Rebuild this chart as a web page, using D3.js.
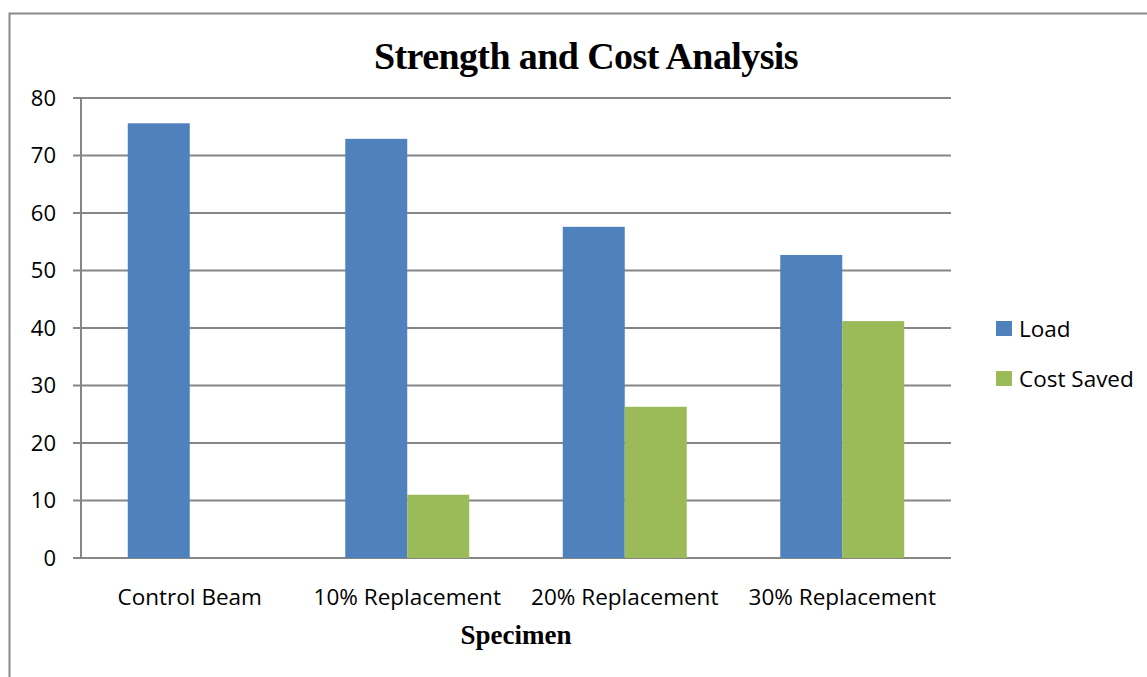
<!DOCTYPE html>
<html>
<head>
<meta charset="utf-8">
<script src="https://cdn.jsdelivr.net/npm/d3@7"></script>
<style>
  body { margin: 0; background: #fff; }
  svg { display: block; }
</style>
</head>
<body>
<svg id="chart"></svg>
<script>
var categories = ["Control Beam", "10% Replacement", "20% Replacement", "30% Replacement"];
var seriesNames = ["Load", "Cost Saved"];
var loadValues = [75.6, 72.9, 57.6, 52.7];
var costValues = [null, 11.0, 26.3, 41.2];
var yTicks = [0, 10, 20, 30, 40, 50, 60, 70, 80];
var colors = ["#4f81bd", "#9bbb59"];

var W = 1147, H = 677;
var margin = {top: 98, left: 81, right: 196, bottom: 119};
var width = W - margin.left - margin.right,
    height = H - margin.top - margin.bottom;

var svg = d3.select("#chart").attr("width", W).attr("height", H);

// outer frame
svg.append("path")
  .attr("d", "M9.5," + H + " L9.5,13.5 L" + W + ",13.5")
  .attr("fill", "none")
  .attr("stroke", "#8a8a8a")
  .attr("stroke-width", 2);

var g = svg.append("g")
  .attr("transform", "translate(" + margin.left + "," + margin.top + ")");

var x0 = d3.scaleBand().domain(categories).range([0, width]).paddingInner(0.43).paddingOuter(0.215);
var x1 = d3.scaleBand().domain(seriesNames).range([0, x0.bandwidth()]);
var y = d3.scaleLinear().domain([0, 80]).range([height, 0]);

// gridlines
g.selectAll("line.grid")
  .data(yTicks)
  .enter().append("line")
  .attr("class", "grid")
  .attr("x1", -8).attr("x2", width)
  .attr("y1", function(d) { return y(d); })
  .attr("y2", function(d) { return y(d); })
  .attr("stroke", "#868686")
  .attr("stroke-width", 2);

g.append("line")
  .attr("x1", 0).attr("x2", 0)
  .attr("y1", 0).attr("y2", height)
  .attr("stroke", "#868686")
  .attr("stroke-width", 2);

// y labels
g.selectAll("text.ytick")
  .data(yTicks)
  .enter().append("text")
  .attr("class", "ytick")
  .attr("x", -25)
  .attr("y", function(d) { return y(d); })
  .attr("dy", "0.36em")
  .attr("text-anchor", "end")
  .style("font-family", "'Open Sans', sans-serif")
  .style("font-size", "22px")
  .attr("fill", "#000")
  .text(function(d) { return d; });

// bars
var rows = categories.map(function(c, i) {
  return {cat: c, vals: [loadValues[i], costValues[i]]};
});

var group = g.selectAll("g.cat")
  .data(rows)
  .enter().append("g")
  .attr("class", "cat")
  .attr("transform", function(d) { return "translate(" + x0(d.cat) + ",0)"; });

group.selectAll("rect")
  .data(function(d) {
    return d.vals.map(function(v, j) { return {name: seriesNames[j], v: v, j: j}; })
      .filter(function(e) { return e.v != null; });
  })
  .enter().append("rect")
  .attr("x", function(d) { return x1(d.name); })
  .attr("width", x1.bandwidth())
  .attr("y", function(d) { return y(d.v); })
  .attr("height", function(d) { return height - y(d.v); })
  .attr("fill", function(d) { return colors[d.j]; });

// x labels
g.selectAll("text.xtick")
  .data(categories)
  .enter().append("text")
  .attr("class", "xtick")
  .attr("x", function(d) { return x0(d) + x0.bandwidth() / 2; })
  .attr("y", height + 47)
  .attr("text-anchor", "middle")
  .style("font-family", "'Open Sans', sans-serif")
  .style("font-size", "22.5px")
  .attr("fill", "#000")
  .text(function(d) { return d; });

// title
svg.append("text")
  .attr("x", 586).attr("y", 69)
  .attr("text-anchor", "middle")
  .style("font-family", "'Liberation Serif', serif")
  .style("font-weight", "bold")
  .style("font-size", "38px")
  .style("letter-spacing", "-0.6px")
  .text("Strength and Cost Analysis");

// axis title
svg.append("text")
  .attr("x", 516).attr("y", 644)
  .attr("text-anchor", "middle")
  .style("font-family", "'Liberation Serif', serif")
  .style("font-weight", "bold")
  .style("font-size", "27px")
  .text("Specimen");

// legend
var legend = svg.selectAll("g.legend")
  .data(seriesNames)
  .enter().append("g")
  .attr("class", "legend")
  .attr("transform", function(d, i) { return "translate(996," + (321 + i * 50) + ")"; });

legend.append("rect")
  .attr("width", 16).attr("height", 15)
  .attr("fill", function(d, i) { return colors[i]; });

legend.append("text")
  .attr("x", 23).attr("y", 8)
  .attr("dy", "0.36em")
  .style("font-family", "'Open Sans', sans-serif")
  .style("font-size", "22.5px")
  .text(function(d) { return d; });
</script>
</body>
</html>
